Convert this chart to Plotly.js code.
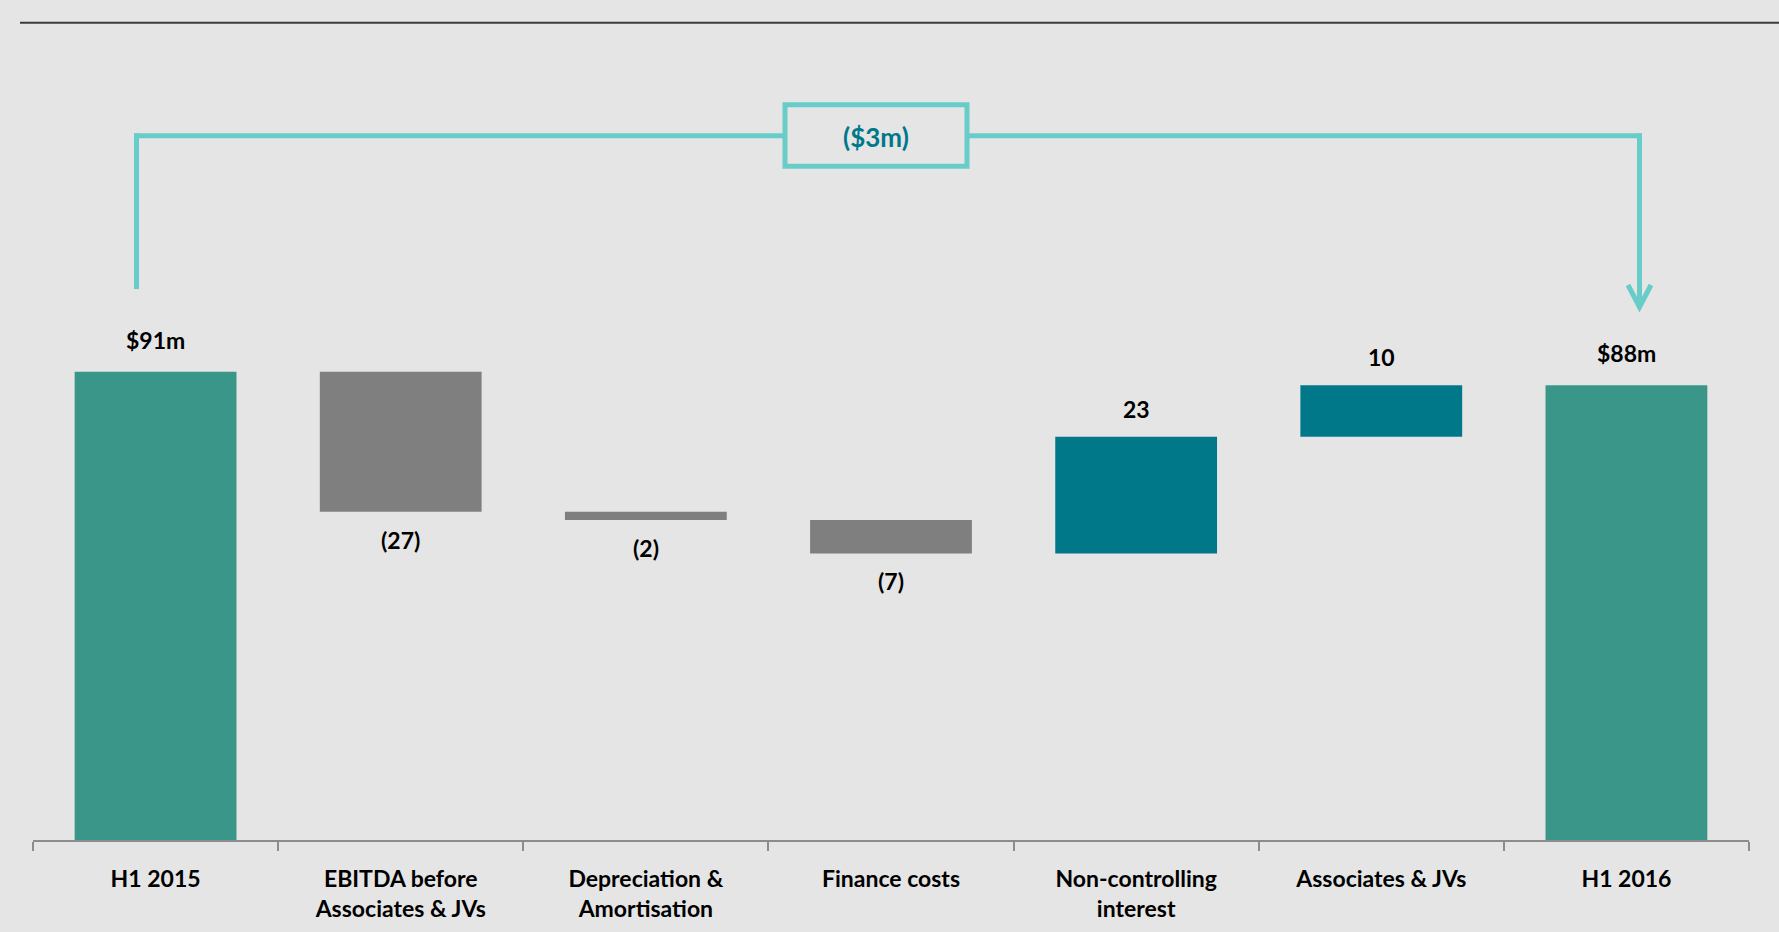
<!DOCTYPE html>
<html>
<head>
<meta charset="utf-8">
<script src="https://cdn.plot.ly/plotly-3.0.1.min.js"></script>
<style>
  html, body { margin: 0; padding: 0; background: #e5e5e5; }
  #chart { width: 1779px; height: 932px; }
</style>
</head>
<body>
<div id="chart"></div>
<script>
// ---- data ----
const categories = [
  "H1 2015",
  "EBITDA before<br>Associates & JVs",
  "Depreciation &<br>Amortisation",
  "Finance costs",
  "Non-controlling<br>interest",
  "Associates & JVs",
  "H1 2016"
];
const values   = [91, -27.2, -1.6, -6.5, 22.7, 10.0, 88.4];
const measures = ["absolute", "relative", "relative", "relative", "relative", "relative", "total"];
const valueLabels = ["$91m", "(27)", "(2)", "(7)", "23", "10", "$88m"];
const changeLabel = "($3m)";

// ---- geometry helpers (pixel -> paper) ----
const W = 1779, H = 932;
const M = { l: 33, r: 30, t: 22, b: 92 };
const PW = W - M.l - M.r, PH = H - M.t - M.b;
const px = x => (x - M.l) / PW;
const py = y => (H - M.b - y) / PH;

// ---- label annotations from cumulative levels ----
const annotations = [];
let level = 0;
for (let i = 0; i < values.length; i++) {
  let end, above;
  if (measures[i] === "relative") {
    end = level + values[i];
    above = values[i] >= 0;
    level = end;
  } else if (measures[i] === "total") {
    end = level; above = true;
  } else {
    level = values[i]; end = level; above = true;
  }
  const isTotal = measures[i] !== "relative";
  const shift = isTotal ? 32 : 28;
  annotations.push({
    x: categories[i], y: end, xref: "x", yref: "y",
    text: valueLabels[i], showarrow: false,
    yanchor: "middle", xanchor: "center",
    yshift: above ? shift : -shift,
    font: { family: "Lato, 'Open Sans', sans-serif", size: 23, color: "#000000", weight: 700 }
  });
}

// box label
annotations.push({
  x: px(875.5), y: py(136.5), xref: "paper", yref: "paper",
  text: changeLabel, showarrow: false, xanchor: "center", yanchor: "middle",
  font: { family: "Lato, 'Open Sans', sans-serif", size: 26, color: "#00788a", weight: 700 }
});

const bracketColor = "#68cdc8";
const bl = { color: bracketColor, width: 5 };
const shapes = [
  // top rule
  { type: "line", xref: "paper", yref: "paper", x0: px(20), x1: px(1779), y0: py(22.8), y1: py(22.8),
    line: { color: "#3c3c3c", width: 2 } },
  // left vertical
  { type: "line", xref: "paper", yref: "paper", x0: px(136.5), x1: px(136.5), y0: py(289), y1: py(133.5), line: bl },
  // left horizontal
  { type: "line", xref: "paper", yref: "paper", x0: px(134), x1: px(784), y0: py(135.8), y1: py(135.8), line: bl },
  // box
  { type: "rect", xref: "paper", yref: "paper", x0: px(785), x1: px(967), y0: py(104.8), y1: py(166.2), line: bl },
  // right horizontal
  { type: "line", xref: "paper", yref: "paper", x0: px(967), x1: px(1642), y0: py(135.8), y1: py(135.8), line: bl },
  // right vertical
  { type: "line", xref: "paper", yref: "paper", x0: px(1639.5), x1: px(1639.5), y0: py(133.5), y1: py(305), line: bl },
  // arrow head
  { type: "path", xref: "paper", yref: "paper",
    path: `M ${px(1628)},${py(285)} L ${px(1639.5)},${py(307)} L ${px(1651)},${py(285)}`,
    line: bl }
];

const trace = {
  type: "waterfall",
  x: categories,
  y: values,
  measure: measures,
  connector: { visible: false },
  totals:     { marker: { color: "#3a9689" } },
  increasing: { marker: { color: "#00788a" } },
  decreasing: { marker: { color: "#7f7f7f" } },
  textinfo: "none",
  hoverinfo: "skip"
};

const layout = {
  width: W, height: H, autosize: false,
  margin: M,
  paper_bgcolor: "#e5e5e5",
  plot_bgcolor: "#e5e5e5",
  showlegend: false,
  waterfallgap: 0.34,
  xaxis: {
    type: "category",
    showline: true, linecolor: "#8c8c8c", linewidth: 2,
    ticks: "outside", tickson: "boundaries", ticklen: 9, tickwidth: 2, tickcolor: "#8c8c8c",
    showgrid: false, zeroline: false, fixedrange: true,
    ticklabelstandoff: 17,
    tickfont: { family: "Lato, 'Open Sans', sans-serif", size: 23, color: "#000000", weight: 700 }
  },
  yaxis: { visible: false, range: [0, 159], fixedrange: true, showgrid: false, zeroline: false },
  shapes: shapes,
  annotations: annotations
};

Plotly.newPlot("chart", [trace], layout, { displayModeBar: false, staticPlot: true });
</script>
</body>
</html>
